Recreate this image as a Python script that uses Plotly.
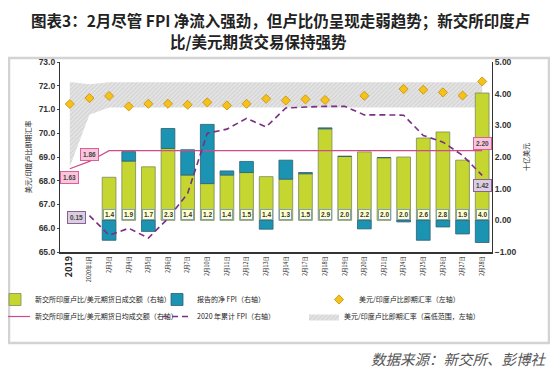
import plotly.graph_objects as go

# ---------------- data ----------------
categories = ["2019", "2020年1月", "2月3日", "2月4日", "2月5日", "2月6日", "2月7日",
              "2月10日", "2月11日", "2月12日", "2月13日", "2月14日", "2月17日",
              "2月18日", "2月19日", "2月20日", "2月21日", "2月24日", "2月25日",
              "2月26日", "2月27日", "2月28日"]
feb_days = categories[2:]

# SGX INR/USD futures daily volume (USD bn, right axis)
daily_volume = [1.36, 1.87, 1.69, 2.27, 1.43, 1.16, 1.43, 1.51, 1.38, 1.30,
                1.47, 2.89, 2.02, 2.16, 1.98, 2.00, 2.60, 2.79, 1.90, 4.02]
# reported net FPI (USD bn, right axis)
net_fpi = [-0.63, 0.30, -0.35, 0.63, 0.80, 1.87, 0.13, 0.35, -0.28, 0.60,
           0.04, 0.03, 0.00, -0.27, 0.00, -0.05, -0.63, -0.21, -0.43, -0.70]
# average daily volume (right axis)
avg_volume = [1.63, 1.86, 2.20, 2.20, 2.20, 2.20, 2.20, 2.20, 2.20, 2.20, 2.20,
              2.20, 2.20, 2.20, 2.20, 2.20, 2.20, 2.20, 2.20, 2.20, 2.20, 2.20]
# 2020 cumulative FPI (right axis)
cum_fpi = [None, 0.15, -0.47, -0.25, -0.56, 0.06, 0.85, 2.75, 2.88, 3.22, 2.95,
           3.55, 3.58, 3.60, 3.60, 3.33, 3.33, 3.32, 2.68, 2.47, 2.05, 1.42]
# USD/INR spot (left axis)
spot_rate = [71.23, 71.48, 71.57, 71.13, 71.24, 71.24, 71.20, 71.30, 71.17, 71.24,
             71.45, 71.38, 71.43, 71.40, None, 71.58, None, 71.86, 71.83, 71.72,
             71.59, 72.18]
# USD/INR spot high / low range (left axis)
range_high = [72.16, 72.06, 72.15, 72.15, 72.15, 72.15, 72.15, 72.15, 72.15, 72.15,
              72.15, 72.15, 72.15, 72.15, 72.15, 72.15, 72.15, 72.15, 72.15, 72.15,
              72.15, 72.15]
range_low = [68.60, 70.78, 71.08, 71.08, 71.08, 71.08, 71.08, 71.08, 71.08, 71.08,
             71.08, 71.08, 71.08, 71.08, 71.08, 71.08, 71.08, 71.08, 71.08, 71.08,
             71.08, 71.08]

# ---------------- styles ----------------
CJK = "Noto Sans CJK SC"
NUM = "Liberation Sans"
GREEN = "#c4d62f"
BLUE = "#1b94b3"
PINK = "#cf4a87"
PURPLE = "#7a2f85"
GOLD = "#f5c21a"

fig = go.Figure()

# high-low band (left axis)
fig.add_trace(go.Scatter(
    x=categories, y=range_low, mode="lines", line=dict(width=0, color="#cfcfcf"),
    showlegend=False, hoverinfo="skip", yaxis="y"))
fig.add_trace(go.Scatter(
    x=categories, y=range_high, mode="lines", line=dict(width=0, color="#bdbdbd"),
    fill="tonexty", fillcolor="rgba(225,225,225,1)",
    fillpattern=dict(shape="/", fgcolor="#bdbdbd", bgcolor="#e4e4e4", size=3, solidity=0.35),
    name="美元/印度卢比即期汇率（高低范围，左轴）", legend="legend3", yaxis="y"))

# spot diamonds (left axis)
fig.add_trace(go.Scatter(
    x=categories, y=spot_rate, mode="markers",
    marker=dict(symbol="diamond", size=7, color=GOLD, line=dict(color="#c98a00", width=0.8)),
    name="美元/印度卢比即期汇率（左轴）", legend="legend", legendrank=3, yaxis="y"))

# bars (right axis)
fig.add_trace(go.Bar(
    x=feb_days, y=daily_volume, marker=dict(color=GREEN, line=dict(color="#7d8a5a", width=0.8)),
    name="新交所印度卢比/美元期货日成交额（右轴）", legend="legend", legendrank=1, yaxis="y2"))
fig.add_trace(go.Bar(
    x=feb_days, y=net_fpi, marker=dict(color=BLUE, line=dict(color="#2f5f6f", width=0.8)),
    name="报告的净 FPI（右轴）", legend="legend", legendrank=2, yaxis="y2"))

# average volume line
fig.add_trace(go.Scatter(
    x=categories, y=avg_volume, mode="lines", line=dict(color=PINK, width=1.2),
    name="新交所印度卢比/美元期货日均成交额（右轴）", legend="legend2", legendrank=1, yaxis="y2"))

# cumulative FPI
fig.add_trace(go.Scatter(
    x=categories, y=cum_fpi, mode="lines", line=dict(color=PURPLE, width=1.6, dash="6px,4px"),
    name="2020 年累计 FPI（右轴）", legend="legend2", legendrank=2, yaxis="y2", connectgaps=True))

annotations = []
# volume labels in boxes near zero
for d, v in zip(feb_days, daily_volume):
    annotations.append(dict(
        x=categories.index(d), y=0.18, xref="x", yref="y2", text=f"<b>{v:.1f}</b>",
        xanchor="center", yanchor="middle",
        showarrow=False, font=dict(family=NUM, size=6.5, color="#333333"),
        bgcolor="#ffffcc", bordercolor="#7f9fc8", borderwidth=1, borderpad=1))


def box_label(xi, y, text, bg, border, xshift=0):
    annotations.append(dict(
        x=xi, y=y, xref="x", yref="y2", text=f"<b>{text}</b>", showarrow=False,
        xanchor="center", yanchor="middle",
        xshift=xshift, font=dict(family=NUM, size=6.5, color="#444444"),
        bgcolor=bg, bordercolor=border, borderwidth=1, borderpad=2))


last = len(categories) - 1
box_label(0, 1.34, f"{avg_volume[0]:.2f}", "#fbc6dc", "#d9609a")
box_label(1, 2.07, f"{avg_volume[1]:.2f}", "#fbc6dc", "#d9609a")
box_label(last, 2.42, f"{avg_volume[-1]:.2f}", "#fbc6dc", "#d9609a")
box_label(0, 0.10, f"{cum_fpi[1]:.2f}", "#d9cfe1", "#8a5f9a", xshift=7)
box_label(last, 1.10, f"{cum_fpi[-1]:.2f}", "#d9cfe1", "#8a5f9a")

# Page body keeps its default 8px offset, so the figure is laid out 8px smaller
# and all paper positions are relative to a plot area at page (60, 62)-(492, 252).
PX_L, PX_R, PX_T, PX_B = 60, 492, 62, 252


def px_x(px):
    return (px - PX_L) / (PX_R - PX_L)


def px_y(py):
    return (PX_B - py) / (PX_B - PX_T)


# title (two lines)
annotations.append(dict(
    x=px_x(280), xref="paper", xanchor="center", y=px_y(20), yref="paper",
    yanchor="middle",
    text="<b>图表3：2月尽管 FPI 净流入强劲，但卢比仍呈现走弱趋势；新交所印度卢</b>",
    showarrow=False, font=dict(family=CJK, size=15.5, color="#222222")))
annotations.append(dict(
    x=px_x(258), xref="paper", xanchor="center", y=px_y(41), yref="paper",
    yanchor="middle", text="<b>比/美元期货交易保持强势</b>",
    showarrow=False, font=dict(family=CJK, size=15.5, color="#222222")))
# source
annotations.append(dict(
    x=px_x(548), xref="paper", xanchor="right", y=px_y(358), yref="paper",
    yanchor="middle", text="数据来源：新交所、彭博社", showarrow=False,
    font=dict(family=CJK, size=14.5, color="#555555", style="italic")))

ticktext = ["<b><span style='font-size:9px'>2019</span></b>"] + categories[1:]

legend_common = dict(orientation="h", xanchor="left", yanchor="top",
                     font=dict(family=CJK, size=7, color="#222222"),
                     bgcolor="rgba(0,0,0,0)", traceorder="normal")

OFF = 8
fig.update_layout(
    width=558 - OFF, height=377 - OFF,
    margin=dict(l=PX_L - OFF, r=558 - PX_R, t=PX_T - OFF, b=377 - PX_B, autoexpand=False),
    paper_bgcolor="white", plot_bgcolor="white",
    barmode="relative", bargap=0.3,
    font=dict(family=CJK, color="#222222"),
    annotations=annotations,
    shapes=[dict(type="rect", xref="paper", yref="paper",
                 x0=px_x(9), x1=px_x(549), y0=px_y(343), y1=px_y(58),
                 line=dict(color="#d3d3d3", width=2.5), layer="below")],
    xaxis=dict(type="category", range=[-0.5, 21.5], tickvals=categories, ticktext=ticktext,
               tickangle=-90, tickfont=dict(family=CJK, size=5.5, color="#222222"),
               showline=True, linecolor="#333333", linewidth=1.5, showgrid=False, ticks="",
               automargin=False),
    yaxis=dict(range=[65, 73], dtick=1, tickformat=".1f", showgrid=False, zeroline=False,
               showline=True, linecolor="#333333", linewidth=1.2, ticks="outside", ticklen=2,
               automargin=False,
               tickfont=dict(family=NUM, size=8.5, color="#333333", weight="bold"),
               title=dict(text="美元/印度卢比即期汇率", font=dict(family=CJK, size=7), standoff=6)),
    yaxis2=dict(range=[-1, 5], dtick=1, tickformat=".2f", overlaying="y", side="right",
                showgrid=False, zeroline=False, showline=True, linecolor="#333333", linewidth=1.2,
                ticks="", automargin=False,
                tickfont=dict(family=NUM, size=8.5, color="#333333", weight="bold"),
                title=dict(text="十亿美元", font=dict(family=CJK, size=7), standoff=8)),
    legend=dict(x=px_x(-5), y=px_y(285), entrywidth=117, entrywidthmode="pixels",
                **legend_common),
    legend2=dict(x=px_x(-5), y=px_y(302), entrywidth=117, entrywidthmode="pixels",
                 **legend_common),
    legend3=dict(x=px_x(304), y=px_y(302), **legend_common),
)

fig.write_html("out.html")
